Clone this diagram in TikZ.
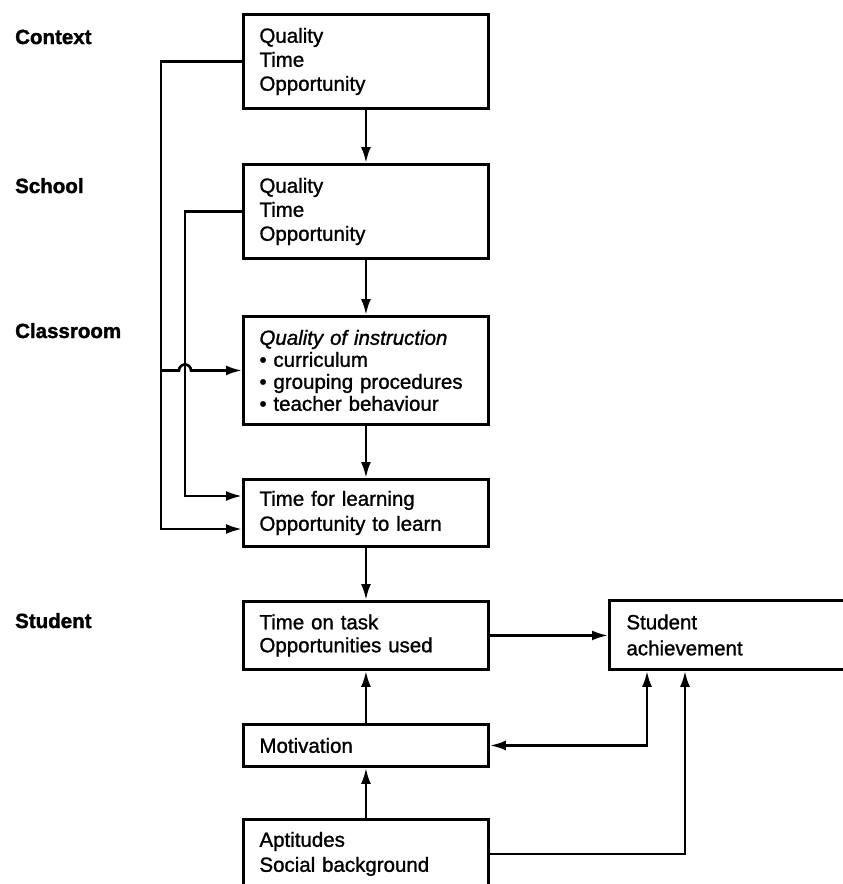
\documentclass[tikz,border=0pt]{standalone}
\usepackage{fontspec}
\setmainfont{Liberation Sans}
% slightly emboldened face for box texts, heavy one for the level labels
\newfontfamily\boxfont{Liberation Sans}[FakeBold=1.2]
\newfontfamily\levelfont{Liberation Sans Bold}[FakeBold=1.6]
\usetikzlibrary{arrows.meta}
\begin{document}
\begin{tikzpicture}[x=1pt,y=-1pt,
  box/.style={draw,line width=2.9pt,anchor=north west,minimum width=245pt,
    text width=213pt,inner xsep=16pt,inner ysep=0pt,align=left,
    font=\boxfont\fontsize{20.5}{24}\selectfont},
  lvl/.style={anchor=base west,inner sep=0pt,font=\levelfont\fontsize{20.5}{24}\selectfont},
  link/.style={line width=2.6pt,-{Latex[length=16pt,width=10pt]}},
  twoway/.style={line width=2.6pt,{Latex[length=16pt,width=10pt]}-{Latex[length=16pt,width=10pt]}}]
\useasboundingbox (0,0) rectangle (843,884);
\clip (0,0) rectangle (843,884);

% level labels
\node[lvl] (lcontext) at (15,44) {Context};
\node[lvl] (lschool) at (15,193) {School};
\node[lvl] (lclass) at (15,338) {Classroom};
\node[lvl] (lstudent) at (15,628) {Student};

% left column of boxes
\node[box,minimum height=94pt] (ctx) at (242,13) {Quality\\Time\\Opportunity};
\node[box,minimum height=94pt] (sch) at (242,163) {Quality\\Time\\Opportunity};
\node[box,minimum height=108pt,font=\boxfont\fontsize{20.5}{22}\selectfont] (cls) at (242,315)
  {\textit{Quality of instruction}\\• curriculum\\• grouping procedures\\• teacher behaviour};
\node[box,minimum height=67pt,font=\boxfont\fontsize{20.5}{25}\selectfont] (tfl) at (242,478) {Time for learning\\Opportunity to learn};
\node[box,minimum height=68pt,font=\boxfont\fontsize{20.5}{23}\selectfont] (tot) at (242,600) {Time on task\\Opportunities used};
\node[box,minimum height=42pt] (mot) at (242,723) {Motivation};
\node[box,minimum height=69pt,font=\boxfont\fontsize{20.5}{25}\selectfont] (apt) at (242,818) {Aptitudes\\Social background};

% outcome box, running past the right edge
\node[box,minimum height=69pt,minimum width=260pt,text width=226pt,inner xsep=17pt,
  font=\boxfont\fontsize{20.5}{26}\selectfont] (sa) at (608,599) {Student\\achievement};

% main chain
\draw[link] (ctx) -- (sch);
\draw[link] (sch) -- (cls);
\draw[link] (cls) -- (tfl);
\draw[link] (tfl) -- (tot);
\draw[link] (mot) -- (tot);
\draw[link] (apt) -- (mot);
\draw[link] (tot.east) -- (tot.east -| sa.west);

% feedback and background links to achievement
\coordinate (fb) at (647,744);
\coordinate (bg) at (685,852);
\draw[twoway] (mot.east) -| (sa.south -| fb);
\draw[link] (apt.east) -| (sa.south -| bg);

% context and school lines on the left
\coordinate (outer) at (161,529);
\coordinate (inner) at (185,496);
\draw[link] (ctx.west) -| (outer) -- (outer -| tfl.west);
\draw[link] (sch.west) -| (inner) -- (inner -| tfl.west);
\draw[link] (outer |- cls.west) -- ++(18,0) arc[start angle=180,end angle=0,radius=6pt] -- (cls.west);
\end{tikzpicture}
\end{document}
